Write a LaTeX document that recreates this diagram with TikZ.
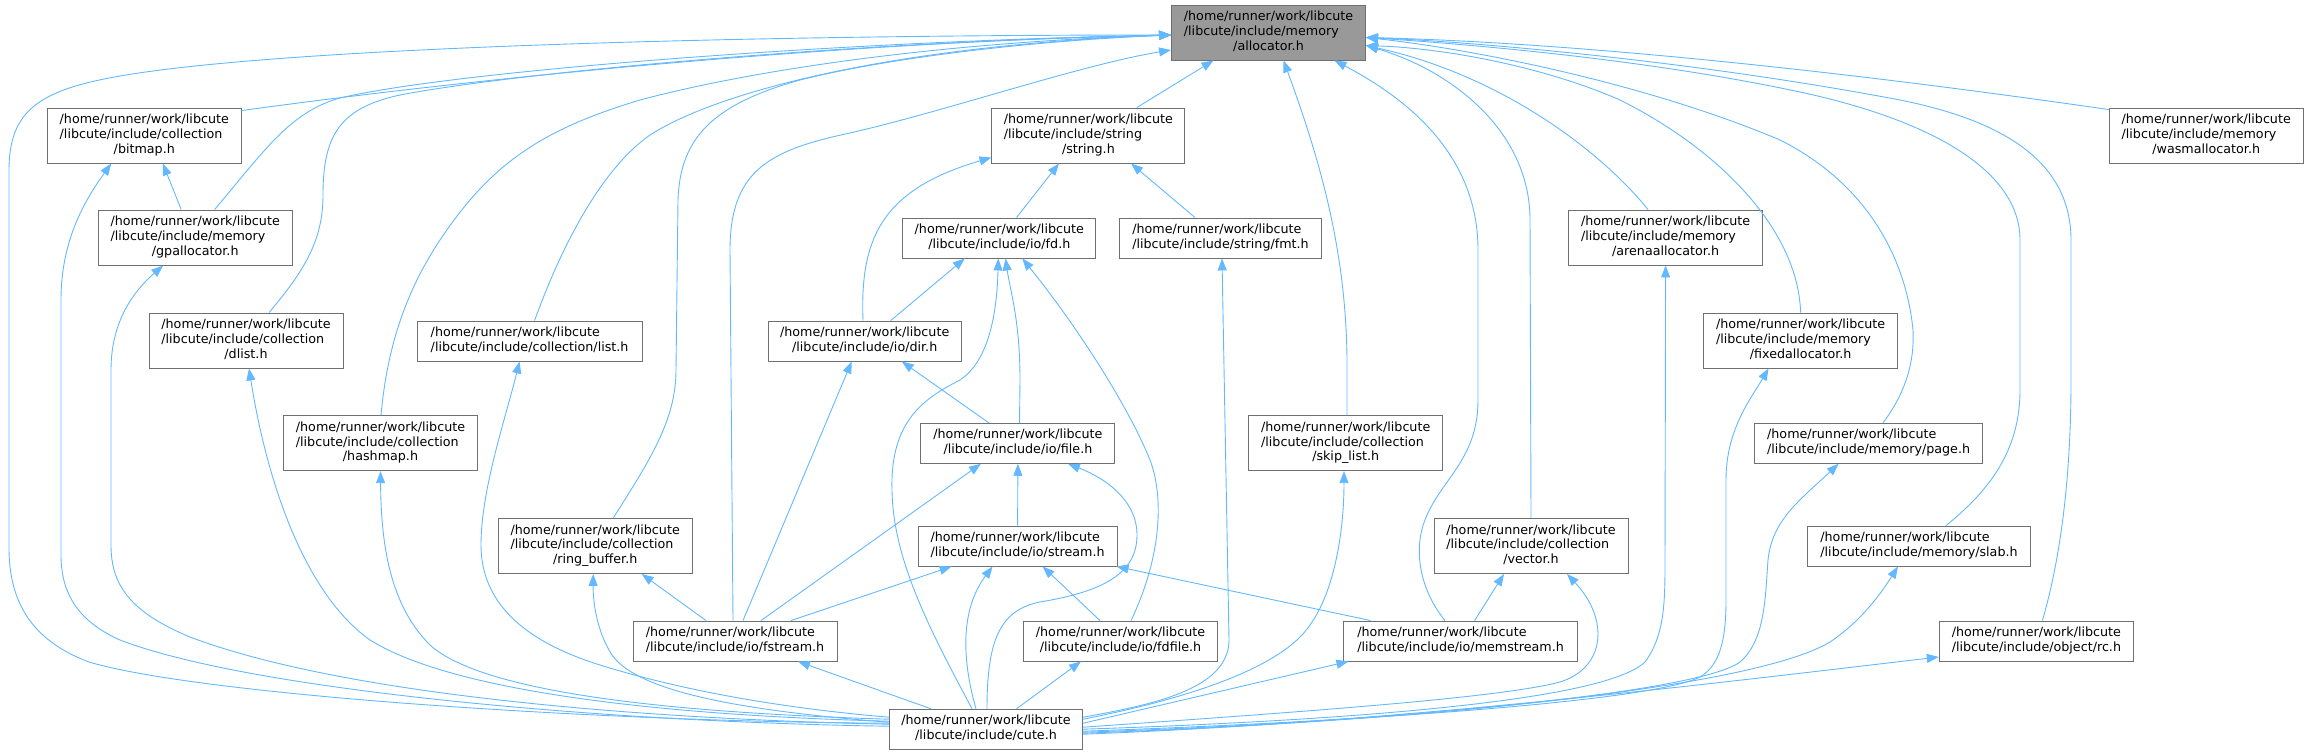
\documentclass[tikz,border=0pt]{standalone}
\usepackage{fontspec}
\setmainfont{DejaVu Sans}
\usetikzlibrary{arrows.meta,calc}
\definecolor{edgeblue}{HTML}{63B8FF}
\definecolor{nodeborder}{HTML}{707070}
\definecolor{rootfill}{HTML}{999999}
\newcommand{\ThreeL}[3]{\begin{tabular}{@{}l@{}}#1\\#2\\\multicolumn{1}{@{}c@{}}{#3}\end{tabular}}
\newcommand{\TwoL}[2]{\begin{tabular}{@{}l@{}}#1\\\multicolumn{1}{@{}c@{}}{#2}\end{tabular}}
\newcommand{\HP}{/home/runner/work/libcute}
\begin{document}
\begin{tikzpicture}[x=1pt,y=-1pt,
  fnode/.style={draw=nodeborder, line width=0.9pt, fill=white, inner sep=0pt,
    font=\fontsize{12.7}{14.7}\selectfont, text=black},
  tall/.style={minimum height=55pt},
  short/.style={minimum height=40pt},
  edge/.style={draw=edgeblue, line width=0.9pt, -{Triangle[length=12pt,width=9pt]}}]
\useasboundingbox (0,0) rectangle (2308,755);

% nodes
\node[fnode,tall,fill=rootfill,minimum width=194pt] (allocator) at (1268.5,32.5) {\ThreeL{\HP}{/libcute/include/memory}{/allocator.h}};
\node[fnode,tall,minimum width=194pt] (bitmap) at (144.3,135.5) {\ThreeL{\HP}{/libcute/include/collection}{/bitmap.h}};
\node[fnode,tall,minimum width=194pt] (gpallocator) at (195.2,237.5) {\ThreeL{\HP}{/libcute/include/memory}{/gpallocator.h}};
\node[fnode,tall,minimum width=194pt] (dlist) at (246,340.5) {\ThreeL{\HP}{/libcute/include/collection}{/dlist.h}};
\node[fnode,tall,minimum width=194pt] (hashmap) at (380.5,443.2) {\ThreeL{\HP}{/libcute/include/collection}{/hashmap.h}};
\node[fnode,short,minimum width=225pt] (list) at (529.6,341) {\TwoL{\HP}{/libcute/include/collection/list.h}};
\node[fnode,tall,minimum width=194pt] (ringbuffer) at (595.2,546) {\ThreeL{\HP}{/libcute/include/collection}{/ring\_buffer.h}};
\node[fnode,tall,minimum width=193pt] (string) at (1088.4,135.5) {\ThreeL{\HP}{/libcute/include/string}{/string.h}};
\node[fnode,short,minimum width=193pt] (fd) at (999.3,238) {\TwoL{\HP}{/libcute/include/io/fd.h}};
\node[fnode,short,minimum width=201.5pt] (fmt) at (1220.5,238) {\TwoL{\HP}{/libcute/include/string/fmt.h}};
\node[fnode,short,minimum width=193pt] (dir) at (864.7,341) {\TwoL{\HP}{/libcute/include/io/dir.h}};
\node[fnode,short,minimum width=194pt] (file) at (1017.9,443.3) {\TwoL{\HP}{/libcute/include/io/file.h}};
\node[fnode,short,minimum width=199pt] (stream) at (1017.6,546) {\TwoL{\HP}{/libcute/include/io/stream.h}};
\node[fnode,short,minimum width=204pt] (fstream) at (735,641) {\TwoL{\HP}{/libcute/include/io/fstream.h}};
\node[fnode,short,minimum width=194pt] (fdfile) at (1120.5,641) {\TwoL{\HP}{/libcute/include/io/fdfile.h}};
\node[fnode,short,minimum width=193.5pt] (cute) at (986,729.2) {\TwoL{\HP}{/libcute/include/cute.h}};
\node[fnode,tall,minimum width=194pt] (skiplist) at (1345.7,443.2) {\ThreeL{\HP}{/libcute/include/collection}{/skip\_list.h}};
\node[fnode,tall,minimum width=194pt] (vector) at (1531,546) {\ThreeL{\HP}{/libcute/include/collection}{/vector.h}};
\node[fnode,short,minimum width=233.4pt] (memstream) at (1460.6,641) {\TwoL{\HP}{/libcute/include/io/memstream.h}};
\node[fnode,tall,minimum width=194pt] (arena) at (1665.6,237.5) {\ThreeL{\HP}{/libcute/include/memory}{/arenaallocator.h}};
\node[fnode,tall,minimum width=194pt] (fixedallocator) at (1800.6,340.5) {\ThreeL{\HP}{/libcute/include/memory}{/fixedallocator.h}};
\node[fnode,tall,minimum width=194pt] (wasm) at (2206.2,135.5) {\ThreeL{\HP}{/libcute/include/memory}{/wasmallocator.h}};
\node[fnode,short,minimum width=228.6pt] (page) at (1868.6,443.3) {\TwoL{\HP}{/libcute/include/memory/page.h}};
\node[fnode,short,minimum width=223pt] (slab) at (1919,546) {\TwoL{\HP}{/libcute/include/memory/slab.h}};
\node[fnode,short,minimum width=194.3pt] (rc) at (2036.4,641) {\TwoL{\HP}{/libcute/include/object/rc.h}};

% edges into allocator (left)
\draw[edge] ($(cute.west)+(0,-6)$) .. controls (600,722) and (200,695) .. (89,662) .. controls (30,640) and (9,600) .. (9,548) -- (9,170) .. controls (9,110) and (40,90) .. (120,76) .. controls (300,45) and (800,35) .. ($(allocator.west)+(0,2.5)$);
\draw[edge] ($(bitmap.north east)+(0,3)$) .. controls (500,75) and (850,42) .. ($(allocator.west)+(0,2.5)$);
\draw[edge] ($(gpallocator.north)+(19.4,0)$) .. controls (265,150) and (290,112) .. (340,98) .. controls (450,72) and (820,42) .. ($(allocator.west)+(0,2.5)$);
\draw[edge] ($(dlist.north)+(23,0)$) .. controls (305,270) and (323,240) .. (323,195) .. controls (323,135) and (340,108) .. (400,95) .. controls (520,72) and (850,42) .. ($(allocator.west)+(0,2.5)$);
\draw[edge] ($(hashmap.north)+(0.5,0)$) .. controls (386,360) and (400,300) .. (440,240) .. controls (490,165) and (540,130) .. (640,100) .. controls (760,68) and (950,42) .. ($(allocator.west)+(0,2.5)$);
\draw[edge] ($(list.north)+(5,0)$) .. controls (560,250) and (600,170) .. (650,135) .. controls (720,90) and (900,45) .. ($(allocator.west)+(0,2.5)$);
\draw[edge] ($(ringbuffer.north)+(18,0)$) .. controls (650,460) and (676,420) .. (676,370) -- (678,200) .. controls (680,140) and (710,105) .. (800,80) .. controls (900,55) and (1050,40) .. ($(allocator.west)+(0,2.5)$);
\draw[edge] ($(fstream.north)+(-2,0)$) -- (730,250) .. controls (730,170) and (770,150) .. (850,133) .. controls (950,110) and (1080,65) .. ($(allocator.west)+(0,17.5)$);
% edges into allocator (bottom)
\draw[edge] ($(string.north)+(48.4,0)$) -- ($(allocator.south)+(-55,0)$);
\draw[edge] ($(skiplist.north)+(1.3,0)$) -- (1347,360) .. controls (1346,250) and (1320,160) .. ($(allocator.south)+(15,0)$);
\draw[edge] ($(memstream.north)+(-15.6,0)$) .. controls (1420,590) and (1413,550) .. (1425,520) .. controls (1440,480) and (1478,460) .. (1478,400) -- (1478,250) .. controls (1478,150) and (1400,95) .. ($(allocator.south)+(66,0)$);
% edges into allocator (right)
\draw[edge] (vector.north) -- (1530,220) .. controls (1530,130) and (1450,70) .. ($(allocator.east)+(0,13)$);
\draw[edge] ($(arena.north)+(-17.6,0)$) .. controls (1600,150) and (1500,75) .. ($(allocator.east)+(0,13)$);
\draw[edge] (fixedallocator.north) .. controls (1798,230) and (1720,150) .. (1620,100) .. controls (1540,65) and (1440,48) .. ($(allocator.east)+(0,13)$);
\draw[edge] ($(page.north)+(14.4,0)$) .. controls (1900,400) and (1915,370) .. (1913,330) .. controls (1905,250) and (1860,180) .. (1780,140) .. controls (1650,85) and (1480,50) .. ($(allocator.east)+(0,5)$);
\draw[edge] ($(slab.north)+(27,0)$) .. controls (1990,490) and (2020,450) .. (2020,390) -- (2020,240) .. controls (2020,170) and (1930,120) .. (1800,92) .. controls (1650,60) and (1480,45) .. ($(allocator.east)+(0,5)$);
\draw[edge] ($(rc.north)+(6,0)$) .. controls (2060,560) and (2071,480) .. (2071,380) -- (2071,240) .. controls (2071,160) and (2000,120) .. (1900,100) .. controls (1700,62) and (1480,42) .. ($(allocator.east)+(0,5)$);
\draw[edge] ($(wasm.north west)+(0,2)$) .. controls (1800,65) and (1550,42) .. ($(allocator.east)+(0,5)$);

% left side edges from cute
\draw[edge] ($(cute.west)+(0,-3)$) .. controls (600,722) and (250,690) .. (120,640) .. controls (75,620) and (61,590) .. (61,555) -- (61,300) .. controls (61,240) and (85,200) .. ($(bitmap.south)+(-33,0)$);
\draw[edge] ($(cute.west)+(0,-5)$) .. controls (600,718) and (330,690) .. (190,637) .. controls (130,612) and (111,585) .. (111,545) -- (111,370) .. controls (111,320) and (135,290) .. ($(gpallocator.south)+(-32,0)$);
\draw[edge] ($(cute.west)+(0,-8)$) .. controls (650,715) and (450,690) .. (370,640) .. controls (300,590) and (265,470) .. ($(dlist.south)+(3,0)$);
\draw[edge] ($(cute.west)+(0,-10)$) .. controls (650,712) and (480,690) .. (430,645) .. controls (390,605) and (381,545) .. (hashmap.south);
\draw[edge] ($(cute.west)+(0,-12)$) .. controls (780,708) and (680,690) .. (600,665) .. controls (520,640) and (481,600) .. (481,545) .. controls (481,490) and (505,420) .. ($(list.south)+(-10,0)$);
\draw[edge] ($(cute.west)+(0,-7)$) .. controls (760,712) and (640,695) .. (612,655) .. controls (596,630) and (593,600) .. ($(ringbuffer.south)+(-2,0)$);
\draw[edge] ($(gpallocator.north)+(-14,0)$) -- ($(bitmap.south)+(18.5,0)$);

% middle
\draw[edge] ($(fstream.north)+(-29,0)$) -- ($(ringbuffer.south east)+(-51,0)$);
\draw[edge] ($(cute.north west)+(42,0)$) -- ($(fstream.south)+(63,0)$);
\draw[edge] ($(fstream.north)+(26,0)$) -- ($(file.south)+(-37,0)$);
\draw[edge] ($(fstream.north)+(56,0)$) -- ($(stream.south)+(-66,0)$);
\draw[edge] ($(fstream.north)+(8,0)$) -- ($(dir.south)+(-13,0)$);
\draw[edge] (stream.north) -- (file.south);
\draw[edge] ($(cute.north)+(1,0)$) .. controls (987,640) and (1000,610) .. (1040,602) .. controls (1100,592) and (1137,575) .. (1137,535) .. controls (1137,500) and (1105,478) .. ($(file.south)+(50,0)$);
\draw[edge] ($(cute.north)+(-10,0)$) .. controls (962,660) and (960,610) .. ($(stream.south)+(-25,0)$);
\draw[edge] ($(cute.north)+(-14,0)$) .. controls (930,630) and (893,560) .. (892,490) .. controls (890,420) and (925,398) .. (960,380) .. controls (990,360) and (997,310) .. ($(fd.south)+(-1,0)$);
\draw[edge] ($(fdfile.north)+(-20.5,0)$) -- ($(stream.south)+(25,0)$);
\draw[edge] ($(memstream.north)+(-90,0)$) -- ($(stream.south east)+(-1,0)$);
\draw[edge] ($(cute.north)+(30.5,0)$) -- ($(fdfile.south)+(-39.5,0)$);
\draw[edge] ($(fdfile.north)+(10.5,0)$) .. controls (1160,560) and (1165,500) .. (1150,460) .. controls (1130,410) and (1080,330) .. ($(fd.south)+(23,0)$);
\draw[edge] ($(dir.north)+(26,0)$) -- ($(fd.south)+(-34.5,0)$);
\draw[edge] ($(file.north)+(1.6,0)$) -- (1020,380) .. controls (1020,320) and (1010,290) .. ($(fd.south)+(6.2,0)$);
\draw[edge] ($(fd.north)+(17.2,0)$) -- ($(string.south)+(-29.4,0)$);
\draw[edge] ($(fmt.north)+(-25.5,0)$) -- ($(string.south)+(42.6,0)$);
\draw[edge] ($(dir.north)+(-1.7,0)$) .. controls (860,240) and (880,190) .. ($(string.west)+(0,22)$);
\draw[edge] ($(file.north)+(-29,0)$) -- ($(dir.south)+(37,0)$);

% right side edges from cute
\draw[edge] ($(cute.east)+(0,-12)$) .. controls (1150,705) and (1229,690) .. (1229,640) -- ($(fmt.south)+(1.5,0)$);
\draw[edge] ($(cute.east)+(0,-10)$) .. controls (1180,700) and (1280,670) .. (1310,625) .. controls (1335,590) and (1344,530) .. ($(skiplist.south)+(-1.7,0)$);
\draw[edge] ($(cute.east)+(0,-6)$) -- ($(memstream.south west)+(5,0)$);
\draw[edge] ($(memstream.north)+(14,0)$) -- ($(vector.south)+(-27,0)$);
\draw[edge] ($(cute.east)+(0,-2)$) .. controls (1300,712) and (1500,698) .. (1560,682) .. controls (1605,668) and (1610,620) .. ($(vector.south)+(36,0)$);
\draw[edge] (cute.east) .. controls (1300,722) and (1600,705) .. (1645,662) .. controls (1665,635) and (1665,600) .. (1665,560) -- (arena.south);
\draw[edge] ($(cute.east)+(0,2)$) .. controls (1350,722) and (1650,702) .. (1700,677) .. controls (1720,665) and (1726,640) .. (1726,600) -- (1726,480) .. controls (1726,430) and (1750,400) .. ($(fixedallocator.south)+(-32,0)$);
\draw[edge] ($(cute.east)+(0,3)$) .. controls (1400,722) and (1700,692) .. (1740,662) .. controls (1765,640) and (1765,600) .. (1768,560) .. controls (1772,520) and (1800,500) .. ($(page.south)+(-30,0)$);
\draw[edge] ($(cute.east)+(0,4)$) .. controls (1400,722) and (1750,690) .. (1830,642) .. controls (1860,622) and (1880,595) .. ($(slab.south)+(-21,0)$);
\draw[edge] ($(cute.east)+(0,5)$) .. controls (1400,722) and (1700,685) .. ($(rc.west)+(0,16)$);
\end{tikzpicture}
\end{document}
